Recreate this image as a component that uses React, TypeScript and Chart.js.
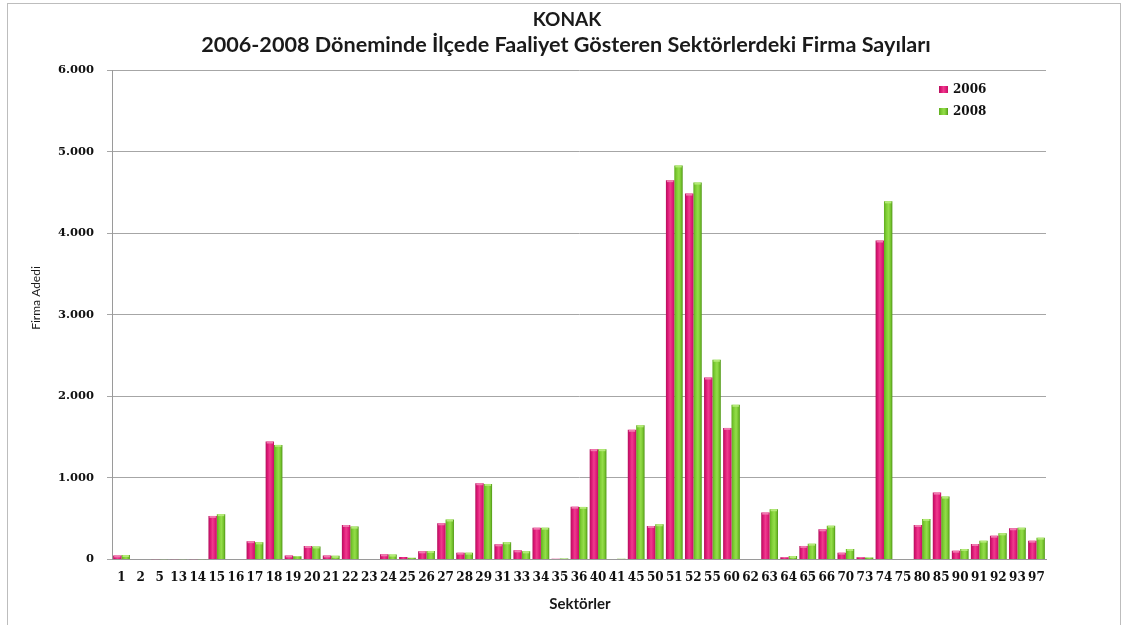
import React, { useEffect, useRef } from "react";
import { Chart, registerables } from "chart.js";

Chart.register(...registerables);

const titleLine1 = "KONAK";
const titleLine2 = "2006-2008 Döneminde İlçede Faaliyet Gösteren Sektörlerdeki Firma Sayıları";
const yAxisTitle = "Firma Adedi";
const xAxisTitle = "Sektörler";

const categories = [
  "1", "2", "5", "13", "14", "15", "16", "17", "18", "19",
  "20", "21", "22", "23", "24", "25", "26", "27", "28", "29",
  "31", "33", "34", "35", "36", "40", "41", "45", "50", "51",
  "52", "55", "60", "62", "63", "64", "65", "66", "70", "73",
  "74", "75", "80", "85", "90", "91", "92", "93", "97",
];

const series2006Label = "2006";
const series2008Label = "2008";

const values2006 = [
  50, 5, 4, 3, 4, 534, 5, 225, 1446, 50,
  165, 50, 423, 5, 64, 30, 100, 444, 84, 935,
  186, 112, 390, 8, 648, 1352, 5, 1590, 411, 4650,
  4485, 2230, 1613, 5, 575, 27, 166, 370, 84, 27,
  3910, 5, 423, 820, 108, 190, 292, 383, 231,
];

const values2008 = [
  55, 5, 4, 3, 4, 556, 5, 210, 1405, 40,
  160, 45, 403, 5, 60, 20, 105, 490, 84, 926,
  211, 100, 390, 12, 645, 1352, 8, 1645, 432, 4830,
  4620, 2448, 1896, 5, 616, 43, 194, 415, 129, 25,
  4390, 5, 497, 771, 129, 231, 321, 390, 268,
];

const yTickValues = [0, 1000, 2000, 3000, 4000, 5000, 6000];
const yTickLabels = ["0", "1.000", "2.000", "3.000", "4.000", "5.000", "6.000"];

const PINK = "#E0197A";
const GREEN = "#7CCB32";
const CAT_PCT = 0.88;

const PINK_STOPS: [number, string][] = [
  [0, "#B3105C"],
  [0.25, "#DE1877"],
  [0.5, "#EE3C8E"],
  [0.8, "#E01A7A"],
  [1, "#C0135F"],
];
const GREEN_STOPS: [number, string][] = [
  [0, "#5FAE1E"],
  [0.3, "#80CF36"],
  [0.55, "#94DD4A"],
  [0.8, "#76C42E"],
  [1, "#4F9516"],
];
const CAP_COLORS = ["#F07AB0", "#B4EA78"];

function barGradient(c: any) {
  const chart = c.chart;
  const xs = chart.scales && chart.scales.x;
  const area = chart.chartArea;
  const fallback = c.datasetIndex === 0 ? PINK : GREEN;
  if (!xs || !area || c.dataIndex === undefined) return fallback;
  const catW = (area.right - area.left) / categories.length;
  const barW = (catW * CAT_PCT) / 2;
  const center = xs.getPixelForValue(c.dataIndex);
  const x0 = center - barW + c.datasetIndex * barW;
  const g = chart.ctx.createLinearGradient(x0, 0, x0 + barW, 0);
  const stops = c.datasetIndex === 0 ? PINK_STOPS : GREEN_STOPS;
  stops.forEach(([p, col]) => g.addColorStop(p, col));
  return g;
}

function fitFont(ctx: any, text: string, weight: string, family: string, targetWidth: number) {
  ctx.font = `${weight} 20px ${family}`;
  const w = ctx.measureText(text).width;
  const size = (20 * targetWidth) / w;
  ctx.font = `${weight} ${size.toFixed(2)}px ${family}`;
  return size;
}

const decorPlugin = {
  id: "decor",
  afterDatasetsDraw(chart: any) {
    const ctx = chart.ctx;
    ctx.save();
    chart.data.datasets.forEach((_ds: any, di: number) => {
      const meta = chart.getDatasetMeta(di);
      meta.data.forEach((bar: any) => {
        const h = bar.base - bar.y;
        if (h < 3) return;
        ctx.fillStyle = CAP_COLORS[di];
        ctx.fillRect(bar.x - bar.width / 2 + 1, bar.y, bar.width - 2, 2);
      });
    });
    ctx.restore();
  },
  afterDraw(chart: any) {
    const ctx = chart.ctx;
    ctx.save();
    // outer frame
    ctx.strokeStyle = "#BDBDBD";
    ctx.lineWidth = 1;
    ctx.strokeRect(7.5, 3.5, 1113, 630);

    ctx.fillStyle = "#1a1a1a";
    ctx.textAlign = "center";
    ctx.textBaseline = "middle";
    const size = fitFont(ctx, titleLine2, "bold", "Lato", 730);
    ctx.fillText(titleLine2, 566, 45);
    ctx.font = `bold ${(size * 0.88).toFixed(2)}px Lato`;
    ctx.fillText(titleLine1, 567, 20);

    // x axis title
    ctx.font = "bold 15px Lato";
    ctx.fillText(xAxisTitle, 580, 604);

    // y axis title
    ctx.save();
    ctx.translate(36, 298);
    ctx.rotate(-Math.PI / 2);
    ctx.font = "12px Lato";
    ctx.fillText(yAxisTitle, 0, 0);
    ctx.restore();

    // legend
    const items = [
      { label: chart.data.datasets[0].label, stops: PINK_STOPS, y: 89 },
      { label: chart.data.datasets[1].label, stops: GREEN_STOPS, y: 111 },
    ];
    items.forEach((it) => {
      const g = ctx.createLinearGradient(939, 0, 948, 0);
      it.stops.forEach(([p, col]) => g.addColorStop(p, col));
      ctx.fillStyle = g;
      ctx.fillRect(939, it.y - 3, 9, 7);
      ctx.fillStyle = "#111";
      ctx.textAlign = "left";
      ctx.font = "bold 12px 'DejaVu Serif'";
      ctx.fillText(it.label, 953, it.y + 1);
    });
    ctx.restore();
  },
};

export default function App() {
  const canvasRef = useRef<HTMLCanvasElement | null>(null);

  useEffect(() => {
    if (!canvasRef.current) return;
    const chart = new Chart(canvasRef.current, {
      type: "bar",
      data: {
        labels: categories,
        datasets: [
          { label: series2006Label, data: values2006, backgroundColor: barGradient, borderWidth: 0 },
          { label: series2008Label, data: values2008, backgroundColor: barGradient, borderWidth: 0 },
        ],
      },
      options: {
        responsive: false,
        animation: false,
        devicePixelRatio: 1,
        layout: { padding: { top: 70, right: 82, left: 0, bottom: 0 } },
        datasets: { bar: { categoryPercentage: CAT_PCT, barPercentage: 1.0 } },
        plugins: {
          legend: { display: false },
          title: { display: false },
          tooltip: { enabled: false },
        },
        scales: {
          x: {
            grid: { display: false, drawTicks: false },
            border: { color: "#9A9A9A" },
            ticks: {
              autoSkip: false,
              maxRotation: 0,
              minRotation: 0,
              padding: 11,
              color: "#111",
              font: { family: "'DejaVu Serif'", size: 12, weight: "bold" },
            },
            afterFit: (s: any) => {
              s.height = 65.5;
            },
          },
          y: {
            min: 0,
            max: 6000,
            afterBuildTicks: (s: any) => {
              s.ticks = yTickValues.map((v) => ({ value: v }));
            },
            ticks: {
              padding: 13,
              color: "#111",
              font: { family: "'DejaVu Serif'", size: 11.5, weight: "bold" },
              callback: (_v: any, i: number) => yTickLabels[i],
            },
            grid: { color: "#A6A6A6", tickLength: 5, drawTicks: true },
            border: { color: "#9A9A9A" },
            afterFit: (s: any) => {
              s.width = 112;
            },
          },
        },
      },
      plugins: [decorPlugin],
    });
    return () => chart.destroy();
  }, []);

  return (
    <div style={{ position: "absolute", left: 0, top: 0, width: 1128, height: 625, background: "#fff" }}>
      <canvas ref={canvasRef} width={1128} height={625} style={{ display: "block" }} />
    </div>
  );
}
